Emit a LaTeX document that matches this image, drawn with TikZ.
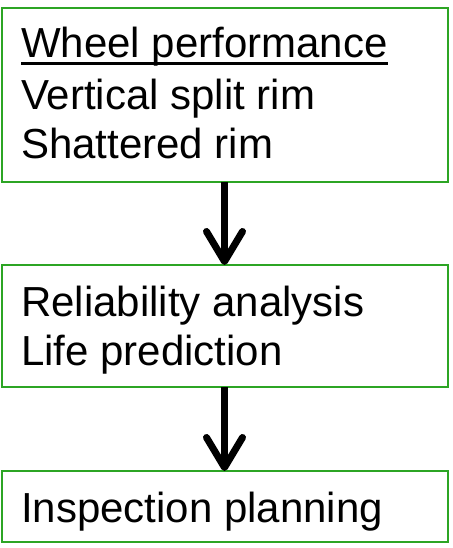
\documentclass[tikz,border=0pt]{standalone}
\usepackage{fontspec}
\setmainfont{Liberation Sans}
\usetikzlibrary{arrows.meta}
\definecolor{boxgreen}{RGB}{44,165,36}
\begin{document}
\begin{tikzpicture}[x=1pt,y=-1pt,
  box/.style={draw=boxgreen,line width=2pt,inner sep=0pt,outer sep=0pt,rectangle},
  txt/.style={anchor=base west,inner sep=0pt,outer sep=0pt,font=\fontsize{42}{50}\selectfont},
  flow/.style={line width=7pt,-{Straight Barb[length=30pt,width=36pt,line cap=round,line join=round]}}]
\useasboundingbox (0,0) rectangle (452,548);
\node[box,minimum width=446pt,minimum height=174pt] (b1) at (224.5,95) {};
\node[box,minimum width=446pt,minimum height=122pt] (b2) at (224.5,326) {};
\node[box,minimum width=446pt,minimum height=71pt] (b3) at (224.5,506.5) {};
\node[txt] (t1) at (21,58) {Wheel performance};
\node[txt] (t2) at (21,110) {Vertical split rim};
\node[txt] (t3) at (21,158) {Shattered rim};
\node[txt] (t4) at (21,316) {Reliability analysis};
\node[txt] (t5) at (21,365) {Life prediction};
\node[txt] (t6) at (21,522) {Inspection planning};
\draw[line width=2.5pt] ([yshift=-5.5pt]t1.base west) -- ([yshift=-5.5pt]t1.base east);
\draw[flow] (b1.south) -- (b2.north);
\draw[flow] (b2.south) -- (b3.north);
\end{tikzpicture}
\end{document}
